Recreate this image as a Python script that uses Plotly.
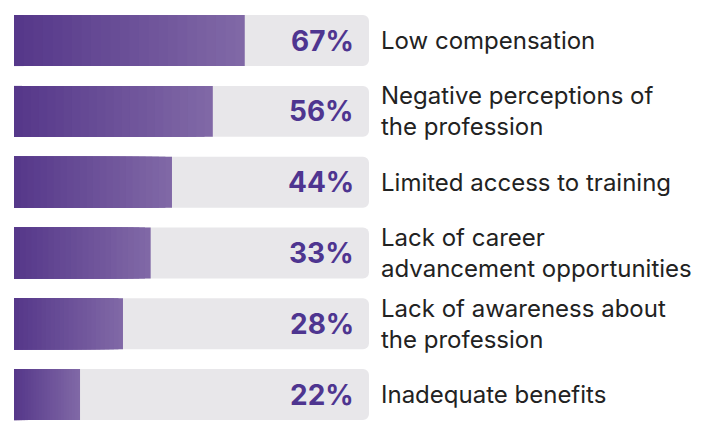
import plotly.graph_objects as go

# data
labels = [
    "Low compensation",
    "Negative perceptions of<br>the profession",
    "Limited access to training",
    "Lack of career<br>advancement opportunities",
    "Lack of awareness about<br>the profession",
    "Inadequate benefits",
]
values = [67, 56, 44, 33, 28, 22]              # printed percentages
bar_lengths = [65, 56, 44.5, 38.5, 30.7, 18.6]  # drawn fill, % of track
full = [100] * len(values)

dark = (86, 56, 138)
light = (128, 104, 166)
steps = 24
radius = 6
bw = 0.72  # bar thickness in category units

fig = go.Figure()

# grey track
fig.add_trace(go.Bar(y=labels, x=full, orientation="h", width=bw, offset=-bw / 2,
                     marker=dict(color="#e8e7ea", line_width=0, cornerradius=radius),
                     hoverinfo="skip", showlegend=False))

# gradient fill: overlapping bars, longest (lightest) first
for k in range(steps):
    f = (steps - k) / steps
    t = 1 - k / (steps - 1)
    c = tuple(round(dark[i] + (light[i] - dark[i]) * t) for i in range(3))
    fig.add_trace(go.Bar(y=labels, x=[v * f for v in bar_lengths], orientation="h",
                         width=bw, offset=-bw / 2,
                         marker=dict(color="rgb(%d,%d,%d)" % c, line_width=0),
                         hoverinfo="skip", showlegend=False))

for lab, v in zip(labels, values):
    fig.add_annotation(x=100, y=lab, xref="x", yref="y", text="<b>%d%%</b>" % v,
                       xanchor="right", xshift=-13, showarrow=False,
                       font=dict(family="Inter", size=28, color="#4e3590"))

fig.update_layout(
    width=696, height=437,
    margin=dict(l=6, r=335, t=0, b=15),
    barmode="group",
    paper_bgcolor="white", plot_bgcolor="white",
    xaxis=dict(range=[0, 100], visible=False, fixedrange=True),
    yaxis=dict(range=[5.5, -0.46], side="right", showgrid=False, zeroline=False,
               showline=False, ticks="", ticklabelstandoff=11,
               tickfont=dict(family="Inter", size=24, color="#222222")),
)

fig.write_html("out.html")
